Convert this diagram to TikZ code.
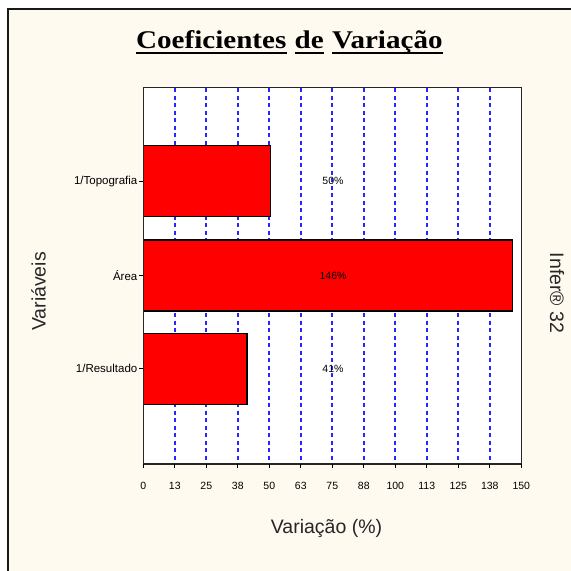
\documentclass[tikz,border=0pt]{standalone}
\usepackage{fontspec}
\usepackage{xcolor}
\setmainfont{Liberation Sans}
\newfontfamily\titlefont[FakeStretch=1.14]{Liberation Serif}
\usetikzlibrary{positioning}

\definecolor{cream}{RGB}{255,250,240}
\definecolor{gridblue}{RGB}{0,0,255}

\tikzset{
	titleword/.style={inner sep=0, anchor=base west, font=\titlefont\bfseries\fontsize{25.5}{28}\selectfont},
	ticklabel/.style={inner sep=0, font=\fontsize{10.5}{12}\selectfont},
	catlabel/.style={inner sep=0, anchor=east, font=\fontsize{11.5}{13}\selectfont},
	axislabel/.style={inner sep=0, font=\fontsize{19.5}{22}\selectfont, text=black!85},
}

\begin{document}
\begin{tikzpicture}[x=1pt, y=-1pt]
	\useasboundingbox (0, 0) rectangle (571, 571);

	\fill[cream] (8, 9) rectangle (571, 571);  % background
	\draw[black!90, line width=2] (8, 571) -- (8, 9) -- (571, 9);  % frame

	% title
	\node[titleword] (tcoef) at (136, 48.3) {Coeficientes};
	\node[titleword] (tde) at ([xshift=8]tcoef.base east) {de};
	\node[titleword] (tvar) at ([xshift=8]tde.base east) {Variação};
	\foreach \w in {tcoef, tde, tvar}
		\draw[line width=2.2] ([yshift=-4.5]\w.base west) -- ([yshift=-4.5]\w.base east);

	\fill[white] (143.3, 87.3) rectangle (521.3, 464);  % plot area

	\foreach \i in {1, ..., 11}
		\draw[gridblue!85, line width=1.8, dash pattern=on 4 off 3.5] ({143.3 + 31.5*\i}, 88) -- ++(0, 375.5);

	% bars
	\foreach \v/\y/\p in {50.4/181.2/50\%, 146.4/275.4/146\%, 41.2/368.7/41\%} {
		\draw[black, fill=red, line width=1.4] (143.3, \y - 35.5) rectangle ({143.3 + 2.52*\v}, \y + 35.5);
		\node[ticklabel] at (333, \y) {\p};
	}

	\draw[black!85, line width=1.5] (143.3, 87.3) rectangle (521.3, 464);  % plot border

	% x ticks
	\foreach \t [count=\i from 0] in {0, 13, 25, 38, 50, 63, 75, 88, 100, 113, 125, 138, 150} {
		\draw[black, line width=1.2] ({143.3 + 31.5*\i}, 464) -- ++(0, 3.5);
		\node[ticklabel] (xt\i) at ({143.3 + 31.5*\i}, 485.5) {\t};
	}

	% y ticks
	\node[catlabel] (ctopo) at (137.5, 181.2) {1/Topografia};
	\node[catlabel] (carea) at (137.5, 275.4) {Área};
	\node[catlabel] (cres) at (137.5, 368.7) {1/Resultado};
	\foreach \c in {ctopo, carea, cres}
		\draw[black, line width=1.2] ([xshift=1.5]\c.east) -- ++(4.3, 0);

	\node[axislabel] (xlabel) at (326.5, 528.5) {Variação (\%)};
	\node[axislabel, rotate=90] (ylabel) at (38.5, 291.5) {Variáveis};
	\node[axislabel, rotate=-90] (brand) at (557, 293) {Infer® 32};
\end{tikzpicture}
\end{document}
